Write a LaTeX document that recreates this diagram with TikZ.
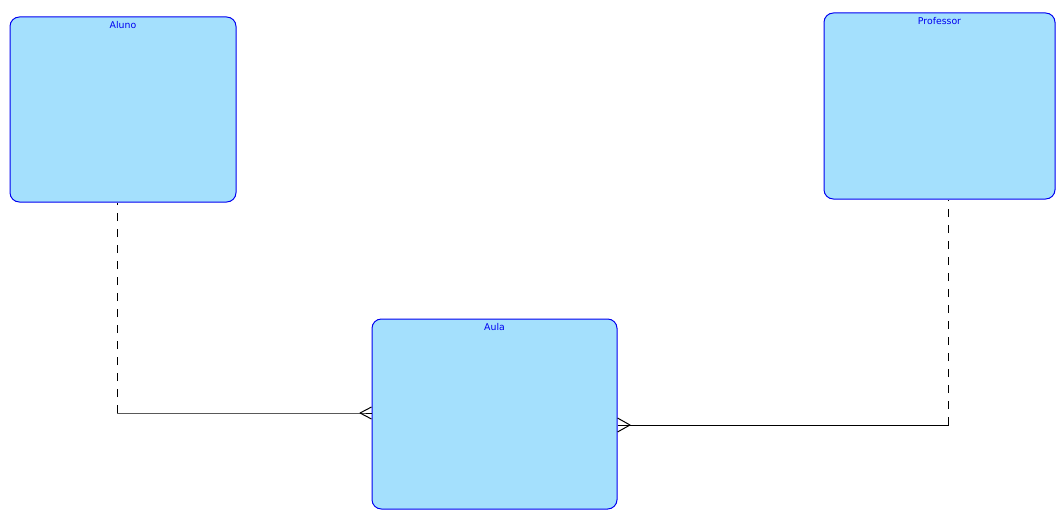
\documentclass[tikz,border=0pt]{standalone}
\usepackage{fontspec}
\setmainfont{DejaVu Sans}
\definecolor{boxfill}{RGB}{164,224,253}
\definecolor{boxline}{RGB}{0,0,240}
\begin{document}
\begin{tikzpicture}[x=0.75pt,y=-0.75pt, line join=round, line cap=butt]
	\tikzset{entity/.style={draw=boxline, fill=boxfill, line width=0.75pt, rounded corners=7pt, inner sep=0pt},
		title/.style={anchor=north, inner sep=3.5pt, text=boxline, font=\fontsize{7}{8}\selectfont},
		link/.style={line width=0.75pt, black},
		relink/.style={link, dash pattern=on 6pt off 6pt}}
	\useasboundingbox (0,0) rectangle (1062,517);
	% entidades
	\node[entity, minimum width=169.5pt, minimum height=138.75pt] (aluno) at (123,109.5) {};
	\node[entity, minimum width=173.25pt, minimum height=139.5pt] (professor) at (939.5,106) {};
	\node[entity, minimum width=183.75pt, minimum height=142.5pt] (aula) at (494.5,414) {};
	\node[title] (tAluno) at (aluno.north) {Aluno};
	\node[title] (tProfessor) at (professor.north) {Professor};
	\node[title] (tAula) at (aula.north) {Aula};
	% ligacoes
	\coordinate (a1) at ([xshift=-4.5pt]aluno.south);
	\coordinate (a2) at (117,413);
	\coordinate (a3) at (360,413);
	\coordinate (p1) at ([xshift=6.9pt]professor.south);
	\coordinate (p2) at (948.7,425);
	\coordinate (p3) at (630,425);
	\draw[relink] (a2)--(a1);
	\draw[link] (a2)--(a3)--(a3-|aula.west);
	\draw[link] ([yshift=4.5pt]a3-|aula.west)--(a3)--([yshift=-4.5pt]a3-|aula.west);
	\draw[relink] (p2)--(p1);
	\draw[link] (p2)--(p3-|aula.east);
	\draw[link] ([yshift=5.25pt]p3-|aula.east)--(p3)--([yshift=-5.25pt]p3-|aula.east);
\end{tikzpicture}
\end{document}
